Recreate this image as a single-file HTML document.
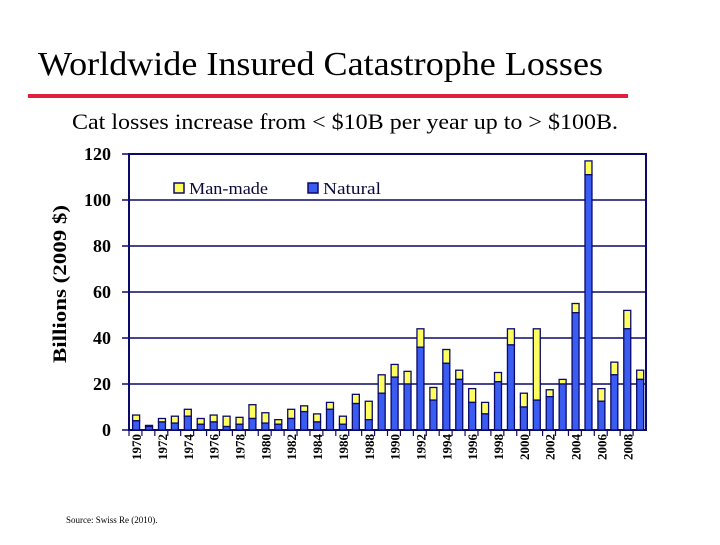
<!DOCTYPE html>
<html><head><meta charset="utf-8"><style>
body{margin:0;background:#fff;}
svg text{font-family:"Liberation Serif",serif;}
</style></head><body>
<svg width="720" height="540" viewBox="0 0 720 540">
<text x="38" y="75" font-size="34" textLength="565" lengthAdjust="spacingAndGlyphs" fill="#000">Worldwide Insured Catastrophe Losses</text>
<rect x="28" y="94" width="600" height="4" fill="#e0203a"/>
<text x="72" y="129" font-size="22" textLength="546" lengthAdjust="spacingAndGlyphs" fill="#000">Cat losses increase from &lt; $10B per year up to &gt; $100B.</text>
<text transform="translate(66,284) rotate(-90)" text-anchor="middle" font-size="19" font-weight="bold" textLength="158" lengthAdjust="spacingAndGlyphs">Billions (2009 $)</text>
<g id="plot"></g>
<text x="66" y="523" font-size="9">Source: Swiss Re (2010).</text>
</svg>
<script>
const years=[];for(let y=1970;y<=2009;y++)years.push(y);
const totals=[6.5,2,5,6,9,5,6.5,6,5.5,11,7.5,4.5,9,10.5,7,12,6,15.5,12.5,24,28.5,25.5,44,18.5,35,26,18,12,25,44,16,44,17.5,22,55,117,18,29.5,52,26];
const natural=[4,1.5,3.5,3,6,2.5,3.5,1.5,2.5,5,3,2.5,5,8,3.5,9,2.5,11.5,4.5,16,23,20,36,13,29,22,12,7,21,37,10,13,14.5,20,51,111,12.5,24,44,22];
const yTicks=[0,20,40,60,80,100,120];
const L=129,R=646,T=154,B=430,ymax=120;
const ys=v=>B-(B-T)*v/ymax;
const bw=(R-L)/years.length;
const xs=i=>L+bw*i;
const ns="http://www.w3.org/2000/svg";
const g=document.getElementById('plot');
function mk(t,a){const e=document.createElementNS(ns,t);for(const k in a)e.setAttribute(k,a[k]);g.appendChild(e);return e;}
yTicks.forEach(v=>{
 if(v>0){const l=mk('line',{x1:122,x2:R,y1:ys(v),y2:ys(v),stroke:'#0a0a6a','stroke-width':1.5});
 
 }
 else{const l=mk('line',{x1:122,x2:L,y1:ys(v),y2:ys(v),stroke:'#0a0a6a','stroke-width':1.5});
 
 }
 const t=mk('text',{x:111,y:ys(v)+6,'text-anchor':'end','font-size':18,'font-weight':'bold'});t.textContent=v;
 
 
});
const fr=mk('rect',{x:L,y:T,width:R-L,height:B-T,fill:'none',stroke:'#0a0a6a','stroke-width':2});


years.forEach((yr,i)=>{
 const x=xs(i)+bw*0.28,w=bw*0.54;
 const tk=mk('line',{x1:xs(i),x2:xs(i),y1:B,y2:B+6,stroke:'#0a0a6a','stroke-width':1.2});
 
 
 const mm=mk('rect',{x:x,y:ys(totals[i]),width:w,height:ys(natural[i])-ys(totals[i]),fill:'#ffff60',stroke:'#0a0a6a','stroke-width':1.3});
 
 
 const nb=mk('rect',{x:x,y:ys(natural[i]),width:w,height:B-ys(natural[i]),fill:'#3a5cf0',stroke:'#0a0a6a','stroke-width':1.3});
 
 
 if(i%2===0){
  const cx=xs(i)+bw*0.55;
  const t=mk('text',{transform:`translate(${cx+5},${B+4}) rotate(-90)`,'text-anchor':'end','font-size':13,'font-weight':'bold'});t.textContent=yr;
  
  
 }
});
[[174,'#ffff60','Man-made',79],[308,'#3a5cf0','Natural',58]].forEach(([x,c,s,tl])=>{
 const r=mk('rect',{x:x,y:183,width:10,height:10,fill:c,stroke:'#0a0a6a','stroke-width':1.5});
 
 
 const t=mk('text',{x:x+15,y:194,'font-size':17,fill:'#0a0a3a',textLength:tl,lengthAdjust:'spacingAndGlyphs'});t.textContent=s;
 
 
});
</script>
</body></html>
